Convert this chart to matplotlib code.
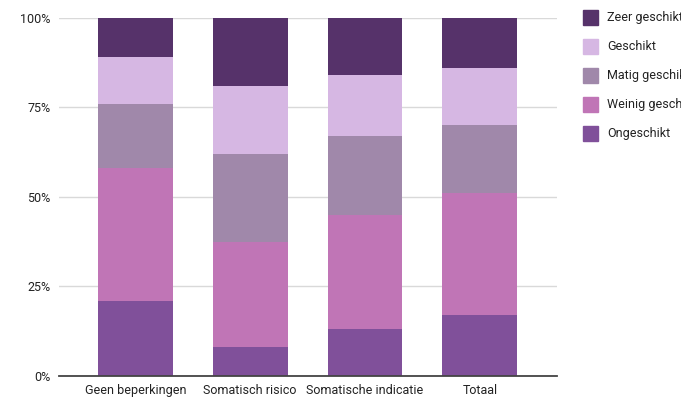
import matplotlib.pyplot as plt
import numpy as np
from matplotlib.patches import Rectangle
from matplotlib.ticker import FixedLocator

plt.rcParams["font.family"] = ["Roboto", "DejaVu Sans"]

categories = ["Geen beperkingen", "Somatisch risico", "Somatische indicatie", "Totaal"]
series_names = ["Ongeschikt", "Weinig geschikt", "Matig geschikt", "Geschikt", "Zeer geschikt"]
ongeschikt = [21, 8, 13, 17]
weinig = [37, 29.5, 32, 34]
matig = [18, 24.5, 22, 19]
geschikt = [13, 19, 17, 16]
zeer = [11, 19, 16, 14]
colors = ["#80509a", "#c075b6", "#a088aa", "#d6b7e3", "#56326a"]
y_ticks = [0, 25, 50, 75, 100]

values = np.array([ongeschikt, weinig, matig, geschikt, zeer], dtype=float)
values = values / values.sum(axis=0) * 100

fig = plt.figure(figsize=(6.81, 3.98), dpi=100)
ax = fig.add_axes([0.0866, 0.0553, 0.731, 0.8995])

x = np.arange(len(categories))
bottom = np.zeros(len(categories))
for vals, name, color in zip(values, series_names, colors):
    ax.bar(x, vals, bottom=bottom, width=0.652, color=color, label=name, zorder=2)
    bottom += vals

ax.set_xlim(-0.665, 3.67)
ax.set_ylim(0, 100)
ax.yaxis.set_major_locator(FixedLocator(y_ticks))
ax.set_yticklabels([f"{t}%" for t in y_ticks])
ax.set_xticks(x)
ax.set_xticklabels(categories)
ax.tick_params(axis="both", length=0, labelsize=9, colors="#222222")
ax.tick_params(axis="y", pad=6)
ax.tick_params(axis="x", pad=5.5)
ax.grid(axis="y", color="#d9d9d9", linewidth=1, zorder=0)
for side in ["top", "right", "left"]:
    ax.spines[side].set_visible(False)
ax.spines["bottom"].set_color("#444444")
ax.spines["bottom"].set_linewidth(1.3)
ax.spines["bottom"].set_zorder(3)

# legend drawn by hand so the labels run off the right edge
for i, idx in enumerate(range(len(series_names) - 1, -1, -1)):
    y_top = 10 + i * 29
    fig.patches.append(Rectangle((583 / 681, 1 - (y_top + 15) / 398), 15 / 681, 15 / 398,
                                 transform=fig.transFigure, color=colors[idx], figure=fig))
    fig.text(607 / 681, 1 - (y_top + 7.5) / 398, series_names[idx], fontsize=9,
             color="#222222", va="center", ha="left")

fig.savefig("out.png", dpi=100)
